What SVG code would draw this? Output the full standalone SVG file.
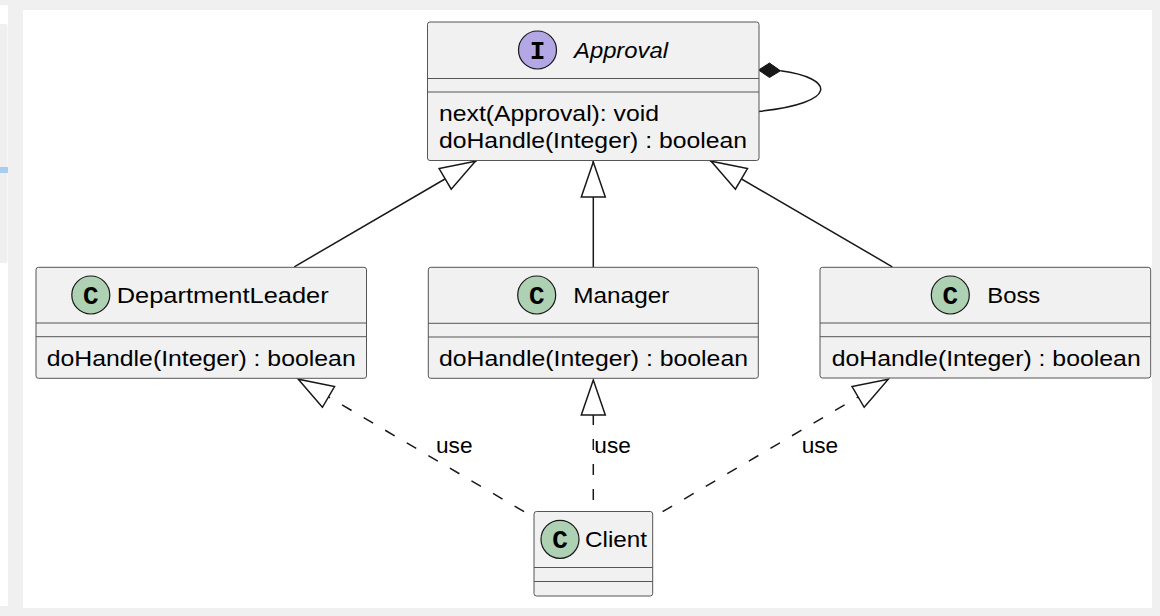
<svg xmlns="http://www.w3.org/2000/svg" width="1160" height="616" viewBox="0 0 1160 616">
  <style>
    .box { fill: #F1F1F1; stroke: #555555; stroke-width: 1; }
    .sep { stroke: #555555; stroke-width: 1; fill: none; }
    .txt { font-family: "Liberation Sans", Arial, sans-serif; font-size: 22.5px; fill: #000; }
    .ital { font-style: italic; }
    .icon { stroke: #181818; stroke-width: 1.2; }
    .cls { fill: #ADD1B2; }
    .ifc { fill: #B4A7E5; }
    .glyph { font-family: "Liberation Mono", "Courier New", monospace; font-size: 26px; font-weight: bold; fill: #000; text-anchor: middle; }
    .dash { stroke-dasharray: 11 14; stroke-dashoffset: 13.5; }
  </style>
  <defs>
    <marker id="tri" markerUnits="userSpaceOnUse" markerWidth="40" markerHeight="30" refX="36.5" refY="0" orient="auto" overflow="visible">
      <path d="M35,0 L0,-12 L0,12 Z" fill="#FFFFFF" stroke="#181818" stroke-width="1.5"/>
    </marker>
  </defs>

  <!-- page background -->
  <rect x="0" y="0" width="1160" height="616" fill="#F0F0F0"/>
  <rect x="0" y="5" width="8" height="601" fill="#FFFFFF"/>
  <rect x="-3" y="24" width="10.5" height="239" rx="2" fill="#EFEFEF"/>
  <rect x="0" y="167" width="8" height="6" fill="#A9CDF0"/>
  <rect x="23" y="10" width="1129" height="598" fill="#FFFFFF"/>

  <g id="connectors" fill="none" stroke="#181818" stroke-width="1.5">
    <path d="M294.3,266.8 L476.7,160.5" marker-end="url(#tri)"/>
    <path d="M593.3,267.3 L593.3,160.5" marker-end="url(#tri)"/>
    <path d="M892.3,266.8 L709.9,160.5" marker-end="url(#tri)"/>
    <path class="dash" d="M534,517.5 L297,378.5" marker-end="url(#tri)"/>
    <path class="dash" d="M593.3,511.5 L593.3,378.5" marker-end="url(#tri)"/>
    <path class="dash" d="M652.7,517.5 L889.6,378.5" marker-end="url(#tri)"/>
    <path d="M780.5,70.8 C835,78 840,103 758.5,111.5"/>
    <polygon points="758.5,70 769.5,63 780.5,70.8 769.5,77.5" fill="#181818" stroke-width="1"/>
    <text class="txt" x="436" y="452.5" textLength="36.5" lengthAdjust="spacingAndGlyphs" stroke="none">use</text>
    <text class="txt" x="594.3" y="452.5" textLength="36.5" lengthAdjust="spacingAndGlyphs" stroke="none">use</text>
    <text class="txt" x="801.7" y="452.5" textLength="36.5" lengthAdjust="spacingAndGlyphs" stroke="none">use</text>
  </g>

  <g id="Approval">
    <rect class="box" x="427.5" y="22" width="331.5" height="138.5" rx="2.5"/>
    <line class="sep" x1="427.5" y1="78.5" x2="759" y2="78.5"/>
    <line class="sep" x1="427.5" y1="92" x2="759" y2="92"/>
    <circle class="icon ifc" cx="537.5" cy="50" r="19"/>
    <text class="glyph" x="537.5" y="59">I</text>
    <text class="txt ital" x="574" y="58" textLength="94" lengthAdjust="spacingAndGlyphs">Approval</text>
    <text class="txt" x="439" y="121" textLength="220" lengthAdjust="spacingAndGlyphs">next(Approval): void</text>
    <text class="txt" x="439" y="148" textLength="308" lengthAdjust="spacingAndGlyphs">doHandle(Integer) : boolean</text>
  </g>

  <g id="DepartmentLeader">
    <rect class="box" x="36" y="267.3" width="330.5" height="111" rx="2.5"/>
    <line class="sep" x1="36" y1="323" x2="366.5" y2="323"/>
    <line class="sep" x1="36" y1="336.7" x2="366.5" y2="336.7"/>
    <circle class="icon cls" cx="90.8" cy="295" r="19"/>
    <text class="glyph" x="90.8" y="304">C</text>
    <text class="txt" x="116.7" y="303" textLength="212" lengthAdjust="spacingAndGlyphs">DepartmentLeader</text>
    <text class="txt" x="46.7" y="365.5" textLength="309" lengthAdjust="spacingAndGlyphs">doHandle(Integer) : boolean</text>
  </g>

  <g id="Manager">
    <rect class="box" x="428.3" y="267.3" width="330" height="111" rx="2.5"/>
    <line class="sep" x1="428.3" y1="323.3" x2="758.3" y2="323.3"/>
    <line class="sep" x1="428.3" y1="337" x2="758.3" y2="337"/>
    <circle class="icon cls" cx="536.7" cy="295" r="19"/>
    <text class="glyph" x="536.7" y="304">C</text>
    <text class="txt" x="573.3" y="303" textLength="96" lengthAdjust="spacingAndGlyphs">Manager</text>
    <text class="txt" x="439" y="365.5" textLength="309" lengthAdjust="spacingAndGlyphs">doHandle(Integer) : boolean</text>
  </g>

  <g id="Boss">
    <rect class="box" x="820" y="267.3" width="330.7" height="110.7" rx="2.5"/>
    <line class="sep" x1="820" y1="323" x2="1150.7" y2="323"/>
    <line class="sep" x1="820" y1="336.7" x2="1150.7" y2="336.7"/>
    <circle class="icon cls" cx="950.3" cy="295" r="19"/>
    <text class="glyph" x="950.3" y="304">C</text>
    <text class="txt" x="987.3" y="303" textLength="53" lengthAdjust="spacingAndGlyphs">Boss</text>
    <text class="txt" x="831.7" y="365.5" textLength="309" lengthAdjust="spacingAndGlyphs">doHandle(Integer) : boolean</text>
  </g>

  <g id="Client">
    <rect class="box" x="534" y="511.5" width="118.7" height="84.5" rx="2.5"/>
    <line class="sep" x1="534" y1="567.5" x2="652.7" y2="567.5"/>
    <line class="sep" x1="534" y1="581.5" x2="652.7" y2="581.5"/>
    <circle class="icon cls" cx="560" cy="539.3" r="19"/>
    <text class="glyph" x="560" y="548.3">C</text>
    <text class="txt" x="585" y="547" textLength="62" lengthAdjust="spacingAndGlyphs">Client</text>
  </g>
</svg>
